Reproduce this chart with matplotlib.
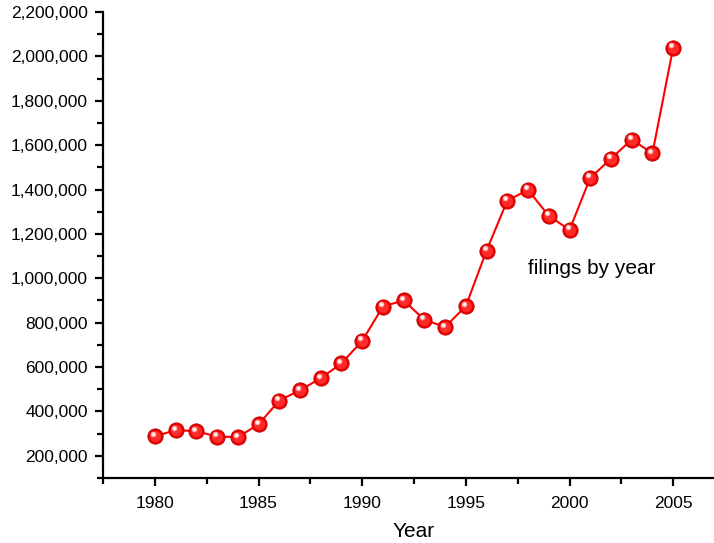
import numpy as np
import matplotlib.pyplot as plt
import matplotlib.transforms as mtransforms
from matplotlib.ticker import MultipleLocator, FuncFormatter

plt.rcParams['font.family'] = ['Liberation Sans', 'DejaVu Sans']

# filings per year
years = [1980, 1981, 1982, 1983, 1984, 1985, 1986, 1987, 1988, 1989,
         1990, 1991, 1992, 1993, 1994, 1995, 1996, 1997, 1998, 1999,
         2000, 2001, 2002, 2003, 2004, 2005]
filings = [287463, 315818, 310951, 286444, 284517, 341189, 449203, 495553,
           549612, 616226, 718107, 872438, 900874, 812898, 780455, 874642,
           1125006, 1350118, 1398182, 1281581, 1217972, 1452030, 1539111,
           1625208, 1563145, 2039214]

fig = plt.figure(figsize=(7.14, 5.43), dpi=100)
ax = fig.add_axes([103 / 714, 65 / 543, 622 / 714, 466 / 543])

ax.plot(years, filings, color='#ff0000', lw=1.5, zorder=2)

# glossy ball markers: red base, softer core, small highlight up-left
ax.plot(years, filings, 'o', ms=11, mfc='#ee0000', mec='#c00000', mew=0.6, zorder=3)
ax.plot(years, filings, 'o', ms=8, mfc='#ff2a2a', mec='none', zorder=4)
hl = ax.transData + mtransforms.ScaledTranslation(-2 / 100, 2.5 / 100, fig.dpi_scale_trans)
ax.plot(years, filings, 'o', ms=4, mfc='#ffb0b0', mec='none', transform=hl, zorder=5)
ax.plot(years, filings, 'o', ms=2, mfc='white', mec='none', transform=hl, zorder=6)

ax.set_xlim(1977.5, 2007.5)
ax.set_ylim(100000, 2200000)

ax.xaxis.set_major_locator(MultipleLocator(5))
ax.xaxis.set_minor_locator(MultipleLocator(2.5))
ax.yaxis.set_major_locator(MultipleLocator(200000))
ax.yaxis.set_minor_locator(MultipleLocator(100000))
ax.yaxis.set_major_formatter(FuncFormatter(lambda v, p: f'{int(v):,}'))

for s in ['top', 'right']:
    ax.spines[s].set_visible(False)
for s in ['left', 'bottom']:
    ax.spines[s].set_linewidth(1.6)

ax.tick_params(which='major', direction='out', length=6, width=1.6, labelsize=12.5)
ax.tick_params(which='minor', direction='out', length=4, width=1.6)
ax.tick_params(axis='x', pad=7)
ax.tick_params(axis='y', pad=5)

ax.set_xlabel('Year', fontsize=15, labelpad=8)
ax.text(1998.0, 1044000, 'filings by year', fontsize=15, va='center', ha='left')

fig.savefig('out.png', dpi=100)
